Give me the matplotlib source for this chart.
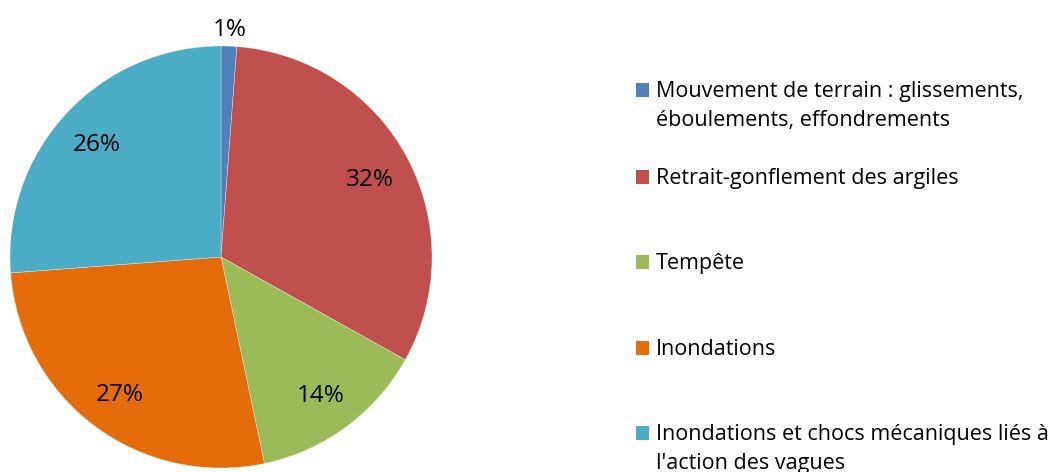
import matplotlib
matplotlib.use("Agg")
import matplotlib.pyplot as plt
import numpy as np
from matplotlib.patches import Rectangle

categories = [
    "Mouvement de terrain : glissements,\néboulements, effondrements",
    "Retrait-gonflement des argiles",
    "Tempête",
    "Inondations",
    "Inondations et chocs mécaniques liés à\nl'action des vagues",
]
values = [1.2, 31.9, 13.6, 27.1, 26.2]
pct_labels = ["1%", "32%", "14%", "27%", "26%"]
colors = ["#4F81BD", "#C0504D", "#9BBB59", "#E46C0A", "#4BACC6"]

FONT = "Open Sans"
FS_LEG = 15.5
FS_PCT = 17.5

W, H = 1054, 472
fig = plt.figure(figsize=(W / 100, H / 100), dpi=100)
fig.patch.set_facecolor("white")

cx, cy, R = 221, 257, 211
ax = fig.add_axes([(cx - R) / W, (H - cy - R) / H, 2 * R / W, 2 * R / H])
wedges, _ = ax.pie(values, colors=colors, startangle=90, counterclock=False,
                   radius=1.0,
                   wedgeprops=dict(edgecolor=(1, 1, 1, 0.5), linewidth=0.4))
ax.set_xlim(-1, 1)
ax.set_ylim(-1, 1)
ax.set_aspect("auto")
ax.axis("off")

for i, (w, lab) in enumerate(zip(wedges, pct_labels)):
    ang = np.deg2rad((w.theta1 + w.theta2) / 2)
    d = 1.09 if values[i] < 3 else 0.80
    ax.text(d * np.cos(ang), d * np.sin(ang), lab, ha="center",
            va="center_baseline", fontsize=FS_PCT, family=FONT, color="black",
            clip_on=False)

row_baselines = [97, 184, 269, 355, 440]
line_gap = 29
for lab, col, yb in zip(categories, colors, row_baselines):
    fig.patches.append(Rectangle((636 / W, 1 - yb / H), 13 / W, 14 / H,
                                 transform=fig.transFigure, facecolor=col,
                                 edgecolor="none"))
    for k, line in enumerate(lab.split("\n")):
        fig.text(656 / W, 1 - (yb + k * line_gap) / H, line, ha="left",
                 va="baseline", fontsize=FS_LEG, family=FONT, color="black")

fig.savefig("out.png", dpi=100, facecolor="white")
